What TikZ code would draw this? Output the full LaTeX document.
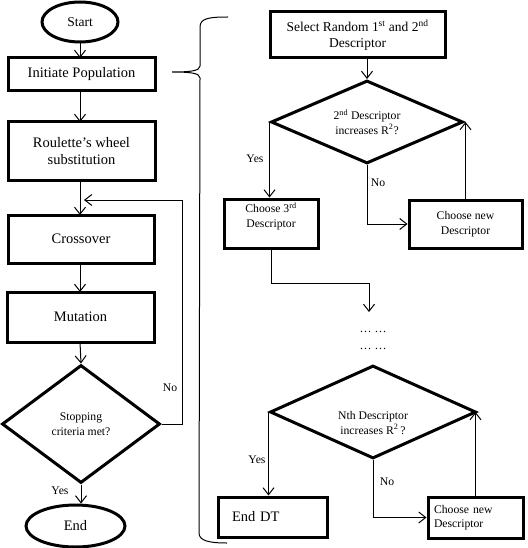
\documentclass[tikz,border=0pt]{standalone}
\usepackage{fontspec}
\setmainfont{Liberation Serif}
\usetikzlibrary{shapes.geometric,arrows.meta}
\newcommand{\bigf}{\fontsize{14.5}{17}\selectfont}
\newcommand{\medf}{\fontsize{13.5}{15.5}\selectfont}
\newcommand{\smf}{\fontsize{11.7}{14.5}\selectfont}
\tikzset{
  thickbox/.style={draw, line width=3pt, inner sep=0pt, align=center},
  ell/.style={draw, ellipse, line width=3pt, inner sep=0pt},
  dia/.style={draw, diamond, line width=3pt, inner sep=0pt, shape aspect=2.3, align=center},
  arr/.style={-{Straight Barb[length=7pt,width=11pt,line width=1pt]}, line width=1pt},
  lab/.style={inner sep=0pt, font=\smf},
}
\begin{document}
\begin{tikzpicture}[x=1pt,y=-1pt]
\useasboundingbox (0,0) rectangle (527,548);
% ---------- left column ----------
\node[ell, minimum width=76pt, minimum height=40pt, font=\medf] (start) at (80,22) {Start};
\node[thickbox, minimum width=147pt, minimum height=33pt, font=\bigf] (init) at (81.5,74.5) {Initiate Population};
\node[thickbox, minimum width=147pt, minimum height=58pt, font=\bigf] (roul) at (81.5,151) {Roulette’s wheel\\substitution};
\node[thickbox, minimum width=146pt, minimum height=48pt, font=\bigf] (cross) at (81,239) {Crossover};
\node[thickbox, minimum width=147pt, minimum height=50pt, font=\bigf] (mut) at (80.5,317) {Mutation};
\node[dia, minimum width=158pt, minimum height=118pt, font=\smf] (stop) at (81,424) {Stopping\\criteria met?};
\node[ell, minimum width=99pt, minimum height=42pt, font=\bigf] (endn) at (75.5,526) {End};

\draw[arr] (80,42) -- (80,58);
\draw[arr] (80,91) -- (80,122);
\draw[arr] (80,180) -- (80,215);
\draw[arr] (80,263) -- (80,292);
\draw[arr] (80,342) -- (stop.north);
\draw[arr] (stop.south) -- (stop.south |- endn.north);

\coordinate (fbturn) at (182,200);
\coordinate (fbend) at (84,200);
\draw[arr] (stop.east) -| (fbturn) -- (fbend);
\node[lab] (nol) at (170,388) {No};
\node[lab] (yesl) at (60,491) {Yes};

% ---------- brace ----------
\draw[line width=1pt] (228,17) .. controls (210,17) and (200,18) .. (200,27) -- (200,66)
  .. controls (200,71) and (190,72) .. (172,72)
  .. controls (190,72) and (200,73) .. (200,78) -- (199,533)
  .. controls (199,541) and (210,543) .. (227,543);

% ---------- right column ----------
\node[thickbox, minimum width=175pt, minimum height=46pt, font=\medf] (sel) at (357.5,35) {Select Random 1\textsuperscript{st} and 2\textsuperscript{nd}\\Descriptor};
\node[dia, minimum width=192pt, minimum height=83pt, font=\smf] (d1) at (367,122) {2\textsuperscript{nd} Descriptor\\increases R\textsuperscript{2}?};
\node[thickbox, minimum width=94pt, minimum height=49pt, font=\smf] (ch3) at (271,223.5) {Choose 3\textsuperscript{rd}\\Descriptor\\[3pt]};
\node[thickbox, minimum width=113pt, minimum height=48pt, font=\smf] (cn1) at (465.5,224) {Choose new\\Descriptor};

\draw[arr] (d1.north |- sel.south) -- (d1.north);
\draw[arr] (d1.west) -- (d1.west |- ch3.north);
\draw[arr] (d1.south) |- (cn1.west);
\draw[arr] (cn1.north) -- (cn1.north |- d1.east);
\node[lab] (yes1) at (255,159) {Yes};
\node[lab] (no1) at (378,183) {No};

\coordinate (bend) at (271,283);
\coordinate (gap) at (369,312);
\draw[arr] (ch3.south) -- (bend) -| (gap);

\node[lab, font=\fontsize{12}{14}\selectfont] (dots1) at (373,332) {… …};
\node[lab, font=\fontsize{12}{14}\selectfont] (dots2) at (373,349) {… …};

\node[dia, minimum width=206pt, minimum height=93pt] (d2) at (373,412) {};
\node[lab, align=center] (d2t) at (373,423) {Nth Descriptor\\increases R\textsuperscript{2}\,?};
\node[thickbox, minimum width=109pt, minimum height=40pt, font=\bigf, text width=81pt, inner xsep=14pt, align=left] (enddt) at (272.5,517) {End DT};
\node[thickbox, minimum width=95pt, minimum height=41pt, font=\smf, text width=83pt, inner xsep=6pt, align=left] (cn2) at (475.5,517.5) {Choose new\\Descriptor};

\draw[arr] (d2.west) -- (d2.west |- enddt.north);
\draw[arr] (d2.south) |- (cn2.west);
\draw[arr] (cn2.north) -- (cn2.north |- d2.east);
\node[lab] (yes2) at (257,460) {Yes};
\node[lab] (no2) at (387,482) {No};
\end{tikzpicture}
\end{document}
